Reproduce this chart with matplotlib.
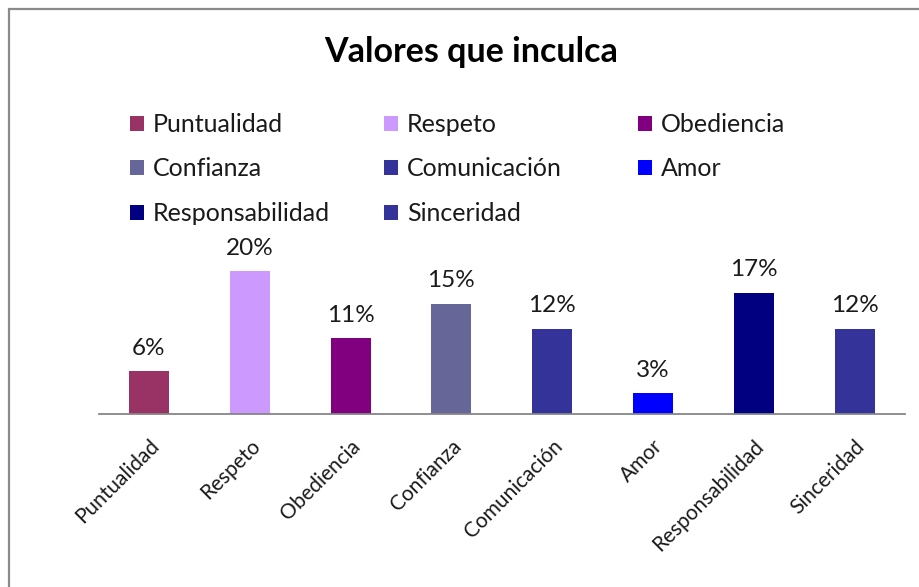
import matplotlib
matplotlib.use("Agg")
import matplotlib.pyplot as plt
from matplotlib.patches import Rectangle

categories = ["Puntualidad", "Respeto", "Obediencia", "Confianza",
              "Comunicación", "Amor", "Responsabilidad", "Sinceridad"]
values = [5.95, 20.0, 10.6, 15.4, 11.9, 2.87, 16.95, 11.9]
value_labels = ["6%", "20%", "11%", "15%", "12%", "3%", "17%", "12%"]
colors = ["#993366", "#CC99FF", "#800080", "#666699",
          "#333399", "#0000FF", "#000080", "#333399"]
title = "Valores que inculca"

plt.rcParams['font.family'] = ['Lato', 'DejaVu Sans']

W, H = 920, 587
fig = plt.figure(figsize=(W / 100, H / 100), dpi=100)
fig.patch.set_facecolor("white")

# outer chart frame
fig.patches.append(Rectangle((9 / W, -0.2), 1.2, 1 - 9 / H + 0.2,
                             transform=fig.transFigure, fill=False,
                             edgecolor="#8a8a8a", linewidth=1.6))

ax_left, ax_right = 98.6, 905.0
base_y, top_y = 413.7, 413.7 - 25 * 7.12
ax = fig.add_axes([ax_left / W, 1 - base_y / H, (ax_right - ax_left) / W,
                   (base_y - top_y) / H])
ax.set_facecolor("none")

x = list(range(len(categories)))
bars = ax.bar(x, values, width=0.395, color=colors, edgecolor="none")
ax.set_xlim(-0.5, len(categories) - 0.5)
ax.set_ylim(0, 25)

for rect, lab in zip(bars.patches, value_labels):
    ax.annotate(lab, (rect.get_x() + rect.get_width() / 2, rect.get_height()),
                xytext=(0, 12), textcoords="offset points",
                ha="center", va="baseline", fontsize=17.5, color="#1a1a1a")

for s in ["top", "right", "left"]:
    ax.spines[s].set_visible(False)
ax.spines["bottom"].set_color("#868686")
ax.spines["bottom"].set_linewidth(1.3)
ax.set_yticks([])
ax.set_xticks(x)
ax.set_xticklabels(categories, rotation=45, ha="right", rotation_mode="anchor",
                   fontsize=15, color="#1a1a1a")
ax.tick_params(axis="x", length=0, pad=16)

fig.text(471 / W, 1 - 62 / H, title, ha="center", va="baseline",
         fontsize=24.5, fontweight="bold", color="black")

# legend: three columns, row-major order like the original
col_x = [130, 384, 638]
handles = list(bars.patches)
for j, cx in enumerate(col_x):
    idx = list(range(j, len(categories), 3))
    fig.legend([handles[i] for i in idx], [categories[i] for i in idx],
               loc="upper left", bbox_to_anchor=(cx / W, 1 - 113 / H),
               bbox_transform=fig.transFigure, frameon=False,
               fontsize=18, handlelength=0.56, handleheight=0.56,
               handletextpad=0.35, labelspacing=0.86, borderpad=0,
               borderaxespad=0, labelcolor="#1a1a1a")

fig.savefig("out.png", dpi=100)
